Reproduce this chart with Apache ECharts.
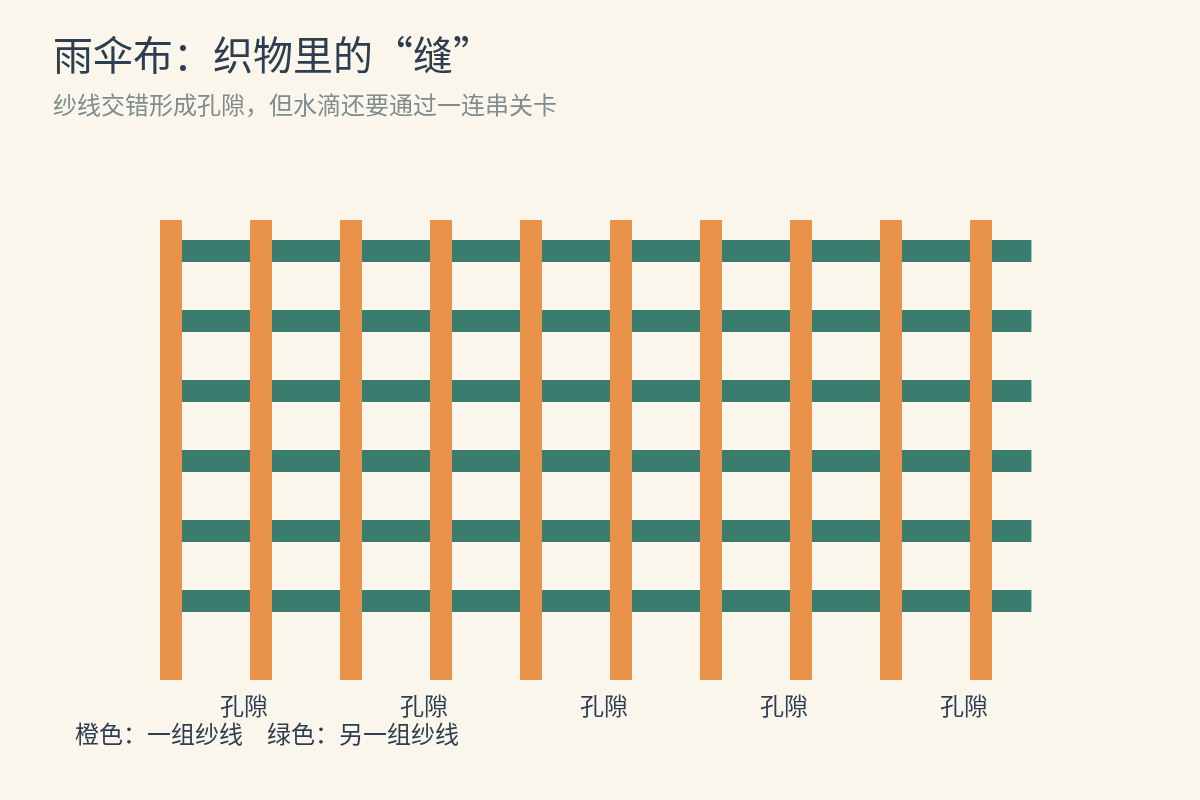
<!DOCTYPE html>
<html><head><meta charset="utf-8">
<script src="https://cdn.jsdelivr.net/npm/echarts@6/dist/echarts.min.js"></script>
<style>html,body{margin:0;background:#faf6ec}#c{width:1200px;height:800px}</style>
</head><body><div id="c"></div>
<script>
const warpX = [0,1,2,3,4,5,6,7,8,9];
const weftY = [0,1,2,3,4,5];
const warpExtent = [-0.443, 6.13];
const weftExtent = [0, 9.56];
const poreX = [0.81, 2.81, 4.81, 6.81, 8.81];
const poreY = 6.5;
const poreLabel = '孔隙';
const F = '"Noto Sans CJK SC", sans-serif';
const chart = echarts.init(document.getElementById('c'));
chart.setOption({
  backgroundColor:'#faf6ec',
  title:{text:'雨伞布：织物里的“缝”',subtext:'纱线交错形成孔隙，但水滴还要通过一连串关卡',left:48,top:30,itemGap:18,
    textStyle:{fontFamily:F,fontSize:40,fontWeight:'normal',color:'#2c3e50'},
    subtextStyle:{fontFamily:F,fontSize:24,color:'#7f8c8d'}},
  grid:{left:171,top:251,width:900,height:420},
  xAxis:{type:'value',min:0,max:10,show:false},
  yAxis:{type:'value',min:0,max:6,inverse:true,show:false},
  graphic:[{type:'text',left:75,top:722,style:{text:'橙色：一组纱线　绿色：另一组纱线',font:'24px '+F,fill:'#2c3e50'}}],
  series:[
    {type:'custom',z:1,clip:false,data:weftY.map(y=>[y]),
     renderItem:(p,api)=>{const y=api.value(0);const a=api.coord([weftExtent[0],y]),b=api.coord([weftExtent[1],y]);
       return {type:'rect',shape:{x:a[0],y:a[1]-11,width:b[0]-a[0],height:22},style:{fill:'#3a7d6f'}};}},
    {type:'custom',z:2,clip:false,data:warpX.map(x=>[x]),
     renderItem:(p,api)=>{const x=api.value(0);const a=api.coord([x,warpExtent[0]]),b=api.coord([x,warpExtent[1]]);
       return {type:'rect',shape:{x:a[0]-11,y:a[1],width:22,height:b[1]-a[1]},style:{fill:'#e8924a'}};}},
    {type:'custom',z:3,clip:false,data:poreX.map(x=>[x,poreY]),
     renderItem:(p,api)=>{const c=api.coord([api.value(0),api.value(1)]);
       return {type:'text',x:c[0],y:c[1],style:{text:poreLabel,font:'24px '+F,fill:'#2c3e50',align:'center',verticalAlign:'middle'}};}}
  ]
});
</script></body></html>
